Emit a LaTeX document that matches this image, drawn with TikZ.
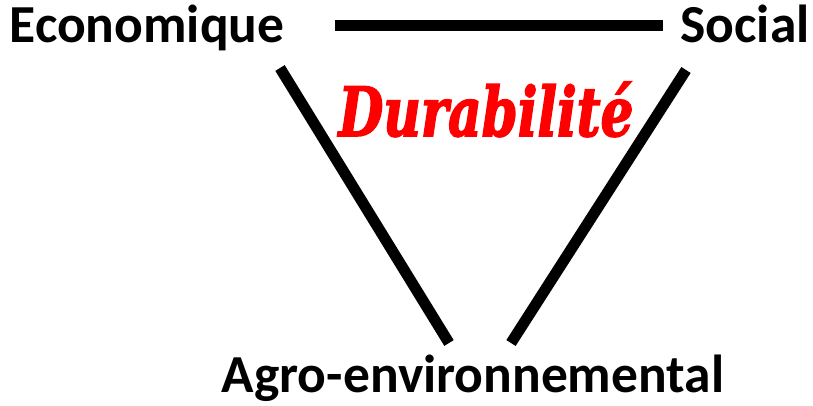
\documentclass[tikz,border=0pt]{standalone}
\usepackage{fontspec}
\usepackage{graphicx}
\setsansfont{Carlito}
\newfontfamily\durafont{DejaVu Serif}[BoldItalicFeatures={FakeBold=2.5}]
\usetikzlibrary{positioning}
\tikzstyle{pole} = [font=\sffamily\bfseries\fontsize{53.5}{64}\selectfont,
inner sep=0pt,
anchor=base]
\tikzstyle{title} = [font=\durafont\bfseries\itshape\fontsize{68}{80}\selectfont,
text=red,
inner sep=0pt,
anchor=base]
\tikzstyle{edge} = [line width=11pt, draw=black]

\begin{document}
\begin{tikzpicture}[x=1pt, y=-1pt]
        \useasboundingbox (0,0) rectangle (813,405);

        % Sommets
        \node (eco) [pole] at (147,42) {Economique};
        \node (soc) [pole] at (745,42) {Social};
        \node (agro) [pole] at (473,392) {Agro-environnemental};
        \node (dura) [title] at (486,136) {\scalebox{0.76}[1]{Durabilité}};

        % Extrémités des traits
        \coordinate (ecoR) at (335,25);
        \coordinate (socL) at (663,25);
        \coordinate (ecoB) at (280,68);
        \coordinate (agroL) at (449,343);
        \coordinate (socB) at (686,70);
        \coordinate (agroR) at (511,343);

        % Traits
        \draw [edge] (ecoR) -- (socL);
        \draw [edge] (ecoB) -- (agroL);
        \draw [edge] (socB) -- (agroR);

\end{tikzpicture}
\end{document}
